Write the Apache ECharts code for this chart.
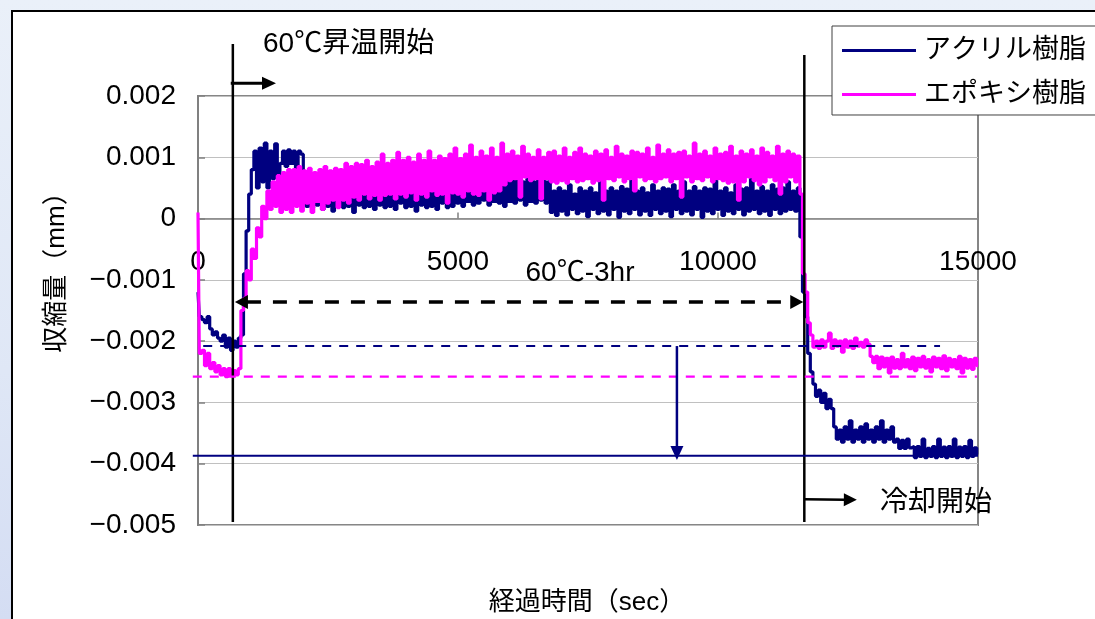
<!DOCTYPE html>
<html lang="ja">
<head>
<meta charset="utf-8">
<title>収縮量の経時変化</title>
<script src="https://cdn.jsdelivr.net/npm/echarts@6/dist/echarts.min.js"></script>
<style>
  html, body { margin: 0; padding: 0; width: 1095px; height: 619px; overflow: hidden;
    background: linear-gradient(to bottom, #eaf0f9 0%, #dfe7f6 60%, #d4ddf3 100%); }
  #panel { position: absolute; left: 11px; top: 10px; width: 1100px; height: 620px;
    background: #fff; border-left: 2px solid #000; border-top: 2px solid #000; box-sizing: border-box; }
  #chart { position: absolute; left: 0; top: 0; width: 1095px; height: 619px; }
</style>
</head>
<body>
<div id="panel"></div>
<div id="chart"></div>
<script>
// Sampling interval of the logged shrinkage (seconds)
const SAMPLE_SEC = 50;

// Shrinkage readings, in units of 1e-4 mm, one every SAMPLE_SEC seconds from t = 0
const acrylic = [
  -12, -16, -16.5, -17, -16, -18, -19, -18.5, -19.5, -20,
  -19, -21, -19.5, -21.5, -20, -21, -19.5, -19, -9, -2,
  4, 8, 11, 5, 11.5, 6, 12.3, 5, 11, 6.5,
  12.2, 7, 9, 11, 8.5, 11.2, 9, 11, 8, 11,
  10.5, 5, 2, 6, 1.8, 5.5, 2.2, 7.5, 1.5, 5,
  2, 6, 1.2, 5, 2.5, 4.5, 1.8, 6, 2, 5.5,
  1, 5, 2.2, 6.5, 1.8, 4.5, 2, 5.5, 1.5, 6,
  2.2, 5, 1.8, 7.5, 2, 5.5, 1.5, 6, 2.5, 5,
  1.8, 6, 2, 4.5, 1.2, 5.5, 2.2, 6, 1.8, 7,
  2, 5.5, 1.5, 6, 2.5, 5, 1.8, 6.5, 2, 5.5,
  2.5, 6, 2, 6.5, 2.8, 5.5, 2.2, 6.8, 2.5, 6,
  3, 6.5, 2.2, 6, 2.8, 7, 2.5, 6, 2, 6.5,
  2.8, 6.2, 2.5, 7.2, 3, 6, 2.2, 6.5, 2.8, 6,
  2.5, 6.8, 3, 6.2, 2.5, 6, 1, 4.5, 0.5, 5,
  1.2, 4.5, 0.6, 5.5, 1.5, 4, 0.8, 5, 1.2, 4.5,
  0.3, 5, 1.5, 4.2, 0.8, 6, 1.2, 4.5, 0.6, 5,
  1.5, 4.5, 0.2, 5.2, 1.2, 4.8, 0.8, 6.5, 1.5, 4.5,
  0.6, 5, 1.2, 4.2, 0.5, 5.5, 1.5, 4.5, 0.8, 5,
  1.2, 4.8, 0.3, 5.5, 1.5, 4.5, 0.8, 6, 1.2, 4.5,
  0.6, 5.2, 1.5, 4.5, 0.2, 5, 1.2, 4.8, 0.8, 6.2,
  1.5, 4.5, 0.5, 5, 1.2, 4.2, 0.8, 5.5, 1.5, 4.8,
  0.6, 5, 1.2, 6.5, 1.5, 4.5, 0.8, 5.2, 1.2, 4.5,
  0.5, 5.5, 1.5, 4.8, 0.8, 5, 1.2, 6, 1.5, 4.5,
  1.2, 5, -3, -12, -16, -22, -25, -27, -29, -28,
  -30, -28.5, -31, -29.5, -31, -34, -36, -34.5, -36.5, -34,
  -36, -33, -36.5, -34.5, -36, -34, -36.5, -33.5, -36, -34.5,
  -36.5, -34, -36, -33, -36.5, -34.5, -36, -34, -36.5, -36,
  -37.5, -36.2, -37.5, -36, -37.4, -37.2, -39, -37.2, -38.8, -36,
  -39, -37.5, -38.8, -37.2, -39, -36, -38.8, -37.3, -39, -37.2,
  -38.8, -36, -39, -37.3, -38.8, -37.2, -39, -36.2, -38.8, -37.4,
  -38.5
];

const epoxy = [
  1, -22, -21.5, -24, -22, -24.5, -23.5, -25, -24, -25.5,
  -24.5, -25.8, -24.5, -25.5, -24.8, -25.5, -24.5, -15, -13, -8.5,
  -10, -5, -6.5, -1.5, -3, 2, 0, 4.5, 1.5, 6,
  2, 7, 1, 7.5, 1.5, 8, 1, 8, 2, 8.5,
  1.2, 7.8, 2.5, 8.2, 1, 7.5, 2.8, 8, 1.5, 8.5,
  2.5, 7.8, 3, 8.2, 1.8, 8, 3, 9, 2.5, 8.5,
  3.5, 9, 3, 8.8, 4, 9.5, 3.2, 8.5, 3.8, 9.2,
  3, 10.5, 3.8, 9, 4, 9.5, 3.2, 10.8, 4, 9.5,
  3.5, 10, 4.2, 9.2, 3, 10.5, 4, 9.5, 3.5, 11,
  4.5, 9.5, 3.8, 10.2, 4, 9.8, 2.5, 10.5, 4.2, 11.5,
  4, 9.8, 3.5, 10.5, 4.5, 12, 4, 10, 3.8, 11,
  4.5, 10.2, 3, 11.5, 4.2, 10, 4.5, 12.3, 5.5, 10.5,
  6.2, 11, 6.5, 10.2, 3.5, 11.8, 6.8, 10.5, 6.2, 10,
  6.5, 11.2, 3.2, 10, 6.5, 10.8, 6, 11, 5.8, 10.2,
  6.2, 11.5, 5.8, 10, 6.5, 10.8, 6, 11.5, 6.2, 10.5,
  6.5, 10.2, 5.8, 11, 6.2, 10.5, 3, 11.2, 6.5, 10,
  6.2, 11.8, 6.8, 10.5, 6, 10.2, 6.5, 11, 4.5, 10.8,
  6.8, 10.5, 6.2, 11.5, 6.5, 10, 6, 12, 6.5, 10.5,
  6.8, 11.2, 6, 10.5, 6.5, 10.8, 3.5, 11, 6.8, 10.2,
  6, 12.3, 6.5, 10.5, 6.2, 11, 6.8, 10.2, 6, 11.5,
  6.5, 10.5, 6.2, 10.8, 5.8, 11.8, 6, 10.2, 3, 11,
  6, 10.5, 6.8, 11.2, 6.2, 10.2, 5.5, 11.5, 6, 10.8,
  6.8, 10.2, 6.2, 11.8, 4, 10.5, 6, 11, 6.8, 10.5,
  6, 10.2, 4, -9, -12, -17, -19, -21, -20, -21.2,
  -19.8, -21, -20, -18.7, -21.2, -19.8, -20.8, -20, -21.8, -19.8,
  -21, -20, -21.2, -19.5, -20.8, -20.2, -21, -19.8, -20.5, -22.5,
  -23.5, -22.5, -24.5, -22.6, -24.2, -22.8, -25.2, -22.6, -24.4, -23,
  -24.5, -22, -24.2, -23, -24.5, -22.6, -24.8, -22.8, -24.2, -22.5,
  -24.4, -23, -25, -22.6, -24.2, -22.8, -24.5, -22.4, -24.8, -22.8,
  -24.2, -23, -24.5, -22.5, -25.2, -22.8, -24.4, -23, -24.6, -22.8,
  -24
];

const seriesNames = ['アクリル樹脂', 'エポキシ樹脂'];

// Axis ranges (time in s, shrinkage in 1e-4 mm)
const X_MIN = 0, X_MAX = 15000, X_STEP = 5000;
const Y_MIN = -50, Y_MAX = 20, Y_STEP = 10;

// Process events and reference levels
const HEAT_START_SEC = 670;
const COOL_START_SEC = 11660;
const ACRYLIC_HOLD_LEVEL = -20.8;
const EPOXY_HOLD_LEVEL = -25.8;
const ACRYLIC_FINAL_LEVEL = -38.7;
const SHRINK_ARROW_SEC = 9210;

const labelHeat = '60℃昇温開始';
const labelHold = '60℃-3hr';
const labelCool = '冷却開始';
const titleX = '経過時間（sec）';
const titleY = '収縮量（mm）';

const FONT = "'Liberation Sans', 'Noto Sans CJK JP', sans-serif";
const NAVY = '#000080';
const MAGENTA = '#ff00ff';

const GRID = { left: 198, top: 96, right: 117, bottom: 94 };
const CHART_H = 619;

const toSeries = arr => arr.map((v, i) => [i * SAMPLE_SEC, v]);

const chart = echarts.init(document.getElementById('chart'), null, { renderer: 'canvas' });

chart.setOption({
  animation: false,
  backgroundColor: 'transparent',
  textStyle: { fontFamily: FONT },
  grid: Object.assign({ show: true, borderColor: '#868686', borderWidth: 2, backgroundColor: 'transparent' }, GRID),
  legend: {
    data: seriesNames,
    orient: 'vertical', left: 832, top: 26,
    padding: [11, 12, 7, 10],
    icon: 'rect', itemWidth: 74, itemHeight: 3, itemGap: 17,
    backgroundColor: '#fff', borderColor: '#404040', borderWidth: 1, borderRadius: 0,
    textStyle: { fontSize: 27, color: '#000', fontFamily: FONT, padding: [0, 0, 0, 3] }
  },
  xAxis: {
    type: 'value', min: X_MIN, max: X_MAX, interval: X_STEP,
    axisLine: { onZero: false, lineStyle: { color: '#808080', width: 1.5 } },
    axisTick: { show: true, inside: true, length: 6, lineStyle: { color: '#808080', width: 1.5 } },
    axisLabel: { margin: 30, fontSize: 28, color: '#000', fontFamily: FONT,
      showMinLabel: true, showMaxLabel: true, formatter: v => String(v) },
    splitLine: { show: false }
  },
  yAxis: {
    type: 'value', min: Y_MIN, max: Y_MAX, interval: Y_STEP,
    axisLine: { show: true, lineStyle: { color: '#808080', width: 2 } },
    axisTick: { show: true, inside: true, length: 7, lineStyle: { color: '#808080', width: 1.5 } },
    axisLabel: {
      margin: 22, fontSize: 28, color: '#000', fontFamily: FONT,
      formatter: v => Math.abs(v) < 1e-9 ? '0' : (v / 10000).toFixed(3).replace('-', '\u2212')
    },
    splitLine: { show: true, lineStyle: { color: '#c0c0c0', width: 1 } }
  },
  series: [
    { name: seriesNames[0], type: 'line', data: toSeries(acrylic), step: 'middle',
      symbol: 'none', showSymbol: false, color: NAVY, lineStyle: { color: NAVY, width: 3.2 }, z: 2 },
    { name: seriesNames[1], type: 'line', data: toSeries(epoxy), step: 'middle',
      symbol: 'none', showSymbol: false, color: MAGENTA, lineStyle: { color: MAGENTA, width: 3.2 }, z: 3 }
  ]
});

// Annotations are placed in data coordinates through the chart's own axes
const P = (t, v) => chart.convertToPixel({ gridIndex: 0 }, [t, v]);

// The time axis sits on the zero line of the shrinkage axis
const zeroY = P(X_MIN, 0)[1];
chart.setOption({ xAxis: { offset: zeroY - (CHART_H - GRID.bottom) } });

function seg(a, b, color, width, dash) {
  return { type: 'line', z: 100, silent: true,
    shape: { x1: a[0], y1: a[1], x2: b[0], y2: b[1] },
    style: { stroke: color, lineWidth: width, lineDash: dash || null } };
}
function head(tip, from, len, half, color) {
  const dx = tip[0] - from[0], dy = tip[1] - from[1];
  const d = Math.hypot(dx, dy) || 1;
  const ux = dx / d, uy = dy / d;
  const bx = tip[0] - ux * len, by = tip[1] - uy * len;
  return { type: 'polygon', z: 101, silent: true,
    shape: { points: [[tip[0], tip[1]], [bx - uy * half, by + ux * half], [bx + uy * half, by - ux * half]] },
    style: { fill: color } };
}
function arrow(a, tip, color, width, len, half, dash) {
  const d = Math.hypot(tip[0] - a[0], tip[1] - a[1]);
  const k = (d - len + 1) / d;
  const end = [a[0] + (tip[0] - a[0]) * k, a[1] + (tip[1] - a[1]) * k];
  return [seg(a, end, color, width, dash), head(tip, a, len, half, color)];
}
function label(text, pos, size, align) {
  return { type: 'text', z: 102, silent: true,
    style: { text, x: pos[0], y: pos[1], fill: '#000', fontSize: size, fontFamily: FONT,
      align: align, verticalAlign: 'middle', textAlign: align, textVerticalAlign: 'middle' } };
}

const g = [];
// event lines
g.push(seg(P(HEAT_START_SEC, 28.5), P(HEAT_START_SEC, -49.5), '#000', 2.5));
g.push(seg(P(COOL_START_SEC, 26.7), P(COOL_START_SEC, -49.5), '#000', 2.5));
g.push(...arrow(P(HEAT_START_SEC - 40, 22.1), P(1500, 22.1), '#000', 3, 14, 6.5));
g.push(...arrow(P(COOL_START_SEC, -45.8), P(12670, -45.9), '#000', 2.5, 13, 6.5));
// 60℃ hold span (dashed double arrow)
{
  const a = P(HEAT_START_SEC + 40, -13.6), b = P(COOL_START_SEC - 20, -13.6);
  g.push(seg([a[0] + 12, a[1]], [b[0] - 12, b[1]], '#000', 3.5, [14, 12]));
  g.push(head(a, b, 13, 7, '#000'));
  g.push(head(b, a, 13, 7, '#000'));
}
// reference levels
g.push(seg(P(100, ACRYLIC_HOLD_LEVEL), P(14270, ACRYLIC_HOLD_LEVEL), NAVY, 2, [9, 8]));
g.push(seg(P(-100, EPOXY_HOLD_LEVEL), P(14980, EPOXY_HOLD_LEVEL), MAGENTA, 2.2, [9, 8]));
g.push(seg(P(-100, ACRYLIC_FINAL_LEVEL), P(X_MAX, ACRYLIC_FINAL_LEVEL), NAVY, 2.2));
g.push(...arrow(P(SHRINK_ARROW_SEC, ACRYLIC_HOLD_LEVEL), P(SHRINK_ARROW_SEC, -39.4), NAVY, 2.5, 14, 6.5));
// texts
g.push(label(labelHeat, P(1250, 28.5), 28, 'left'));
g.push(label(labelHold, P(7346, -8.9), 28, 'center'));
g.push(label(labelCool, P(13115, -46.4), 28, 'left'));
g.push(label(titleX, [587, 603], 26, 'center'));
g.push(Object.assign(label(titleY, [0, 0], 26, 'center'), { x: 57, y: 266, rotation: Math.PI / 2 }));

chart.setOption({ graphic: { elements: g } });
</script>
</body>
</html>
